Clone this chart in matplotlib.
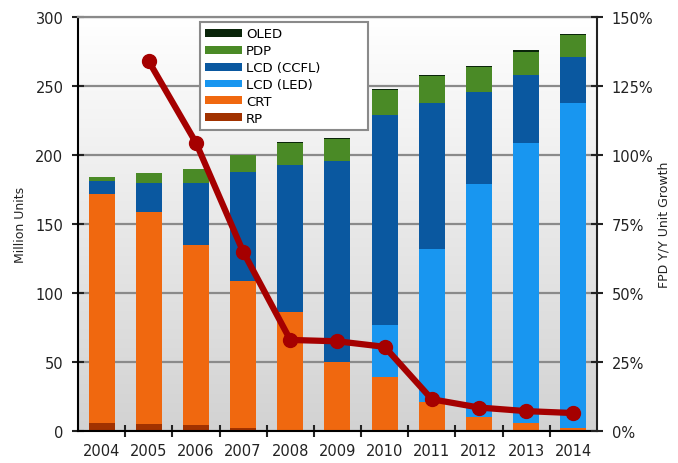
import numpy as np
import matplotlib
matplotlib.use("Agg")
import matplotlib.pyplot as plt
from matplotlib.colors import LinearSegmentedColormap
from matplotlib.ticker import PercentFormatter

# data (million units)
years = ["2004", "2005", "2006", "2007", "2008", "2009", "2010", "2011", "2012", "2013", "2014"]
rp = [6, 5, 4, 2, 0.5, 0, 0, 0, 0, 0, 0]
crt = [166, 154, 131, 107, 85.5, 50, 39, 21, 10, 6, 2]
lcd_led = [0, 0, 0, 0, 0, 0, 38, 111, 169, 203, 236]
lcd_ccfl = [9, 21, 45, 79, 107, 146, 152, 106, 67, 49, 33]
pdp = [3, 7, 10, 12, 16, 16, 18, 19, 18, 17, 16]
oled = [0, 0, 0, 0.4, 0.5, 0.5, 0.7, 0.8, 0.8, 1, 1]

# FPD Y/Y unit growth (%), starts at 2005
growth_years = years[1:]
growth = [134, 104.5, 65, 33, 32.5, 30.5, 11.5, 8.5, 7.2, 6.5]

series = [
    ("RP", rp, "#a13200"),
    ("CRT", crt, "#f0680f"),
    ("LCD (LED)", lcd_led, "#1896f0"),
    ("LCD (CCFL)", lcd_ccfl, "#0a58a0"),
    ("PDP", pdp, "#4a8a26"),
    ("OLED", oled, "#0a250a"),
]

plt.rcParams["font.family"] = "DejaVu Sans"
fig = plt.figure(figsize=(6.78, 4.64), dpi=100)
ax = fig.add_axes([0.115, 0.069, 0.7655, 0.892])

x = np.arange(len(years))
ax.set_xlim(-0.5, len(years) - 0.5)
ax.set_ylim(0, 300)

# background gradient, white at top to light grey at the bottom
cmap = LinearSegmentedColormap.from_list("bg", ["#d2d2d2", "#ffffff"])
grad = np.linspace(0, 1, 256).reshape(-1, 1)
ax.imshow(grad, extent=[-0.5, len(years) - 0.5, 0, 300], origin="lower",
          aspect="auto", cmap=cmap, zorder=0)

bottom = np.zeros(len(years))
handles = {}
for name, vals, col in series:
    vals = np.array(vals, dtype=float)
    b = ax.bar(x, vals, 0.55, bottom=bottom, color=col, zorder=2, label=name)
    handles[name] = b
    bottom += vals

ax.set_axisbelow(True)
ax.yaxis.grid(True, color="#8a8a8a", linewidth=1.6)
ax.set_yticks(np.arange(0, 301, 50))
ax.set_xticks(x)
ax.set_xticklabels(years)
ax.set_xticks(np.arange(0.5, len(years) - 1, 1), minor=True)
ax.tick_params(axis="x", which="major", length=0, pad=9, labelsize=10.5, colors="#222222")
ax.tick_params(axis="x", which="minor", direction="inout", length=9, width=1.5, color="#222222")
ax.tick_params(axis="y", direction="inout", length=9, width=1.5, labelsize=10.5,
               colors="#222222", pad=6)
ax.set_ylabel("Million Units", fontsize=9, color="#222222", labelpad=6)

ax.spines["top"].set_color("#8a8a8a")
ax.spines["top"].set_linewidth(1.6)
ax.spines["left"].set_linewidth(1.5)
ax.spines["bottom"].set_linewidth(1.5)
ax.spines["right"].set_visible(False)

ax2 = ax.twinx()
ax2.set_ylim(0, 150)
ax2.set_yticks(np.arange(0, 151, 25))
ax2.yaxis.set_major_formatter(PercentFormatter(decimals=0))
ax2.tick_params(axis="y", direction="inout", length=9, width=1.5, labelsize=10.5,
                colors="#222222", pad=6)
ax2.set_ylabel("FPD Y/Y Unit Growth", fontsize=9, color="#222222", labelpad=3)
for s in ["top", "left", "bottom"]:
    ax2.spines[s].set_visible(False)
ax2.spines["right"].set_linewidth(1.5)
ax2.spines["right"].set_color("#222222")

gx = [years.index(y) for y in growth_years]
ax2.plot(gx, growth, color="#a50000", linewidth=4.5, marker="o", markersize=10,
         solid_joinstyle="round", solid_capstyle="round", zorder=5)

order = ["OLED", "PDP", "LCD (CCFL)", "LCD (LED)", "CRT", "RP"]
leg = ax2.legend([handles[n] for n in order], order, loc="upper left", mode="expand",
                 bbox_to_anchor=(200 / 678, 1 - 130 / 464, 168 / 678, 107 / 464),
                 bbox_transform=fig.transFigure,
                 fontsize=9.5, frameon=True, fancybox=False, handlelength=2.8,
                 handleheight=0.55, labelspacing=0.3, handletextpad=0.3,
                 borderpad=0.4, borderaxespad=0)
leg.get_frame().set_edgecolor("#8a8a8a")
leg.get_frame().set_linewidth(1.5)
leg.get_frame().set_alpha(1)

fig.savefig("out.png", dpi=100)
